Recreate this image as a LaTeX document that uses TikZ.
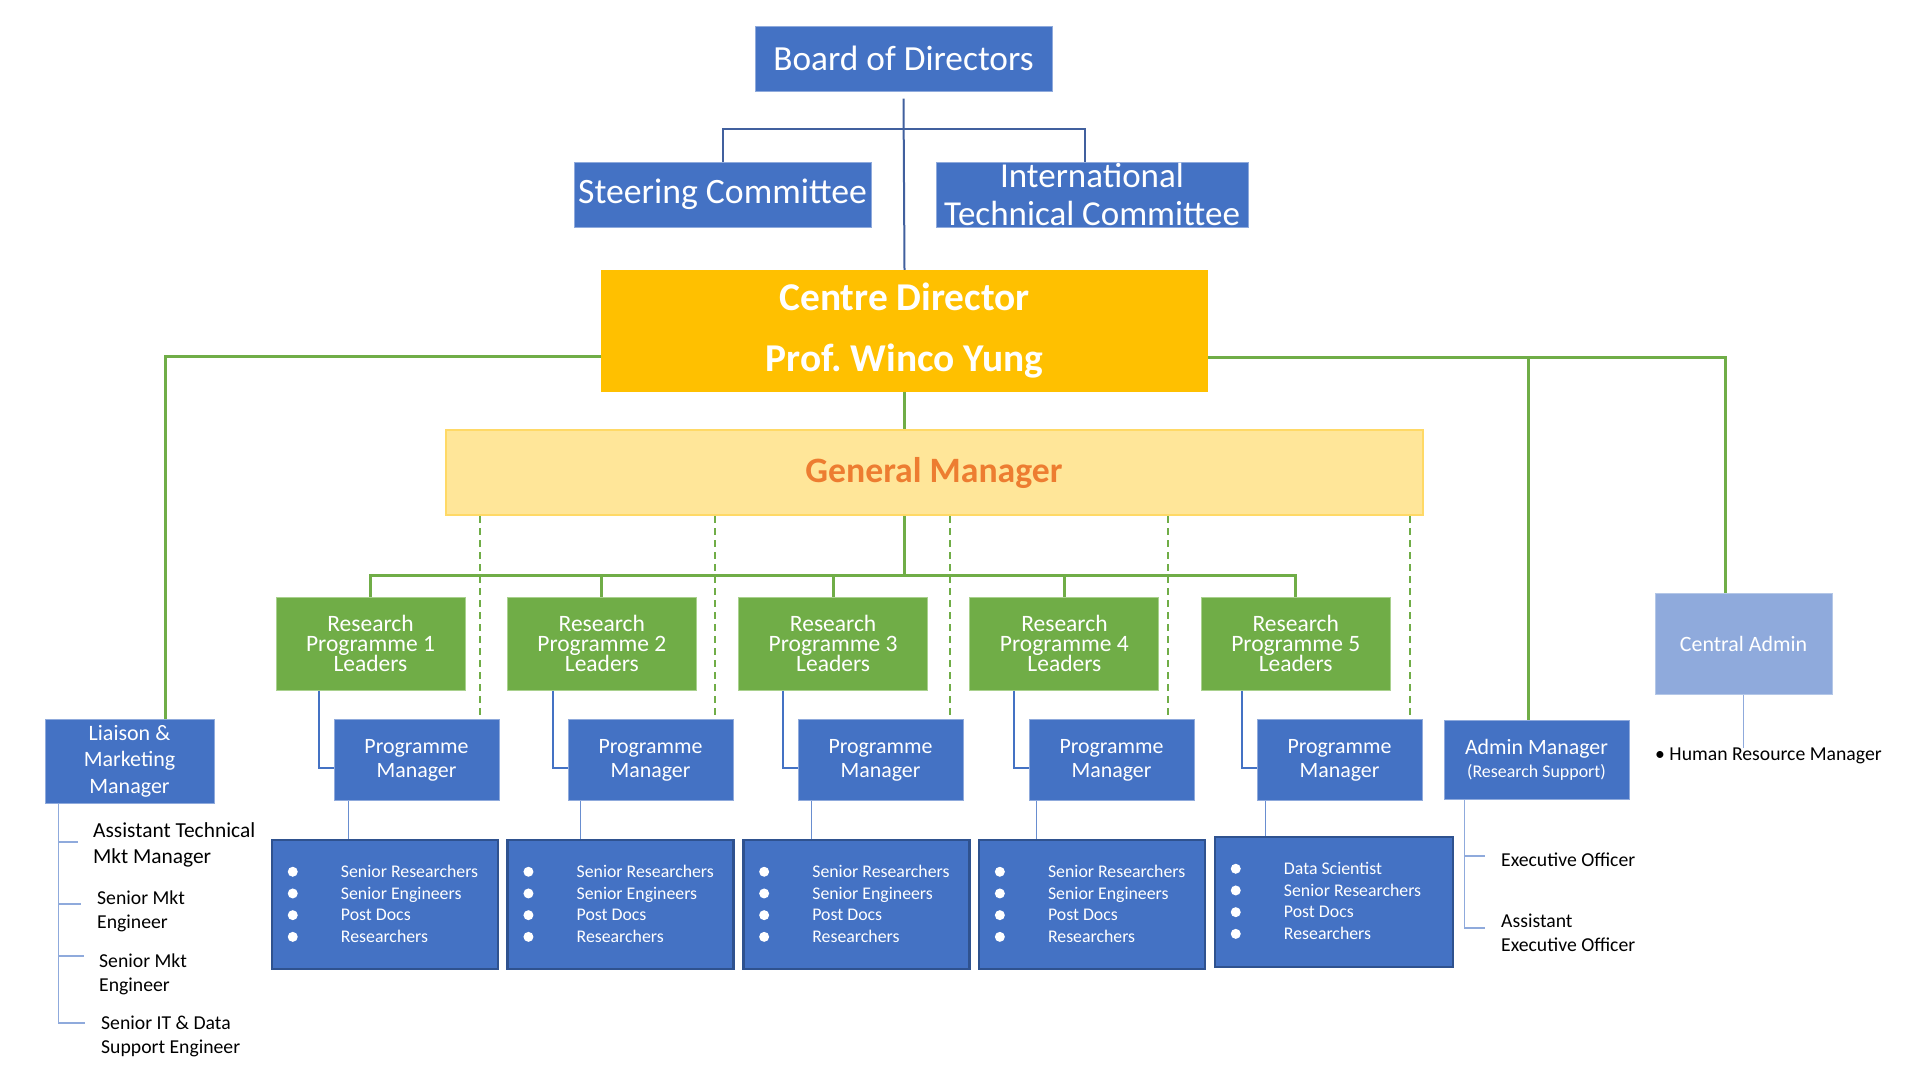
\documentclass[tikz,border=0pt]{standalone}
\usepackage{fontspec}
\setmainfont{Carlito}
\usetikzlibrary{positioning}

\definecolor{orgblue}{HTML}{4472C4}
\definecolor{edgeblue}{HTML}{8FAADC}
\definecolor{darkedge}{HTML}{2F528F}
\definecolor{lineblue}{HTML}{41609E}
\definecolor{orggreen}{HTML}{70AD47}
\definecolor{edgegreen}{HTML}{A9D18E}
\definecolor{gold}{HTML}{FFC000}
\definecolor{paleGold}{HTML}{FFE699}
\definecolor{paleEdge}{HTML}{FFD966}
\definecolor{orangeText}{HTML}{ED7D31}
\definecolor{adminBlue}{HTML}{8FAADC}
\definecolor{adminEdge}{HTML}{B4C7E7}

\newcommand{\setfs}[2]{\fontsize{#1}{#2}\selectfont\lineskiplimit=-50pt\relax}
\frenchspacing

\begin{document}
\begin{tikzpicture}[
    x=1pt, y=-1pt,
    box/.style={rectangle, inner sep=0pt, text=white, align=center},
    bluebox/.style={box, fill=orgblue, draw=edgeblue, line width=1pt},
    rpbox/.style={box, fill=orggreen, draw=edgegreen, line width=1pt,
        minimum width=189, minimum height=93, font=\setfs{23.5}{20}},
    pmbox/.style={bluebox, minimum width=165, minimum height=81, font=\setfs{21.9}{24}},
    listbox/.style={box, fill=orgblue, draw=darkedge, line width=2.5pt},
    listtext/.style={inner sep=0pt, text=white, font=\setfs{17.8}{21.7}},
    sidetext/.style={inner sep=0pt, align=left, anchor=west, font=\setfs{19.7}{24}},
    bline/.style={draw=lineblue, line width=2pt},
    eline/.style={draw=orgblue, line width=2pt},
    tline/.style={draw=edgeblue, line width=1.5pt},
    gline/.style={draw=orggreen, line width=3pt},
    gdash/.style={draw=orggreen, line width=2pt, dash pattern=on 7pt off 5pt}
]
    \useasboundingbox (0,0) rectangle (1920,1080);

    % board and committees
    \node[bluebox, minimum width=297, minimum height=65, font=\setfs{35.3}{40}] (board) at (903.5,58.5) {Board of Directors};
    \node[bluebox, minimum width=297, minimum height=65, font=\setfs{35.7}{40}] (steer) at (722.5,194.5) {Steering Committee};
    \node[bluebox, minimum width=312, minimum height=65, font=\setfs{35}{38}] (intl) at (1092,194.5) {International\\Technical Committee};

    % directors
    \node[box, fill=gold, minimum width=607, minimum height=122, font=\bfseries\setfs{39.4}{63}] (cd) at (904.5,331) {\raisebox{-2pt}{Centre Director}\\Prof. Winco Yung};
    \node[box, fill=paleGold, draw=paleEdge, line width=2pt, minimum width=977, minimum height=85,
        text=orangeText, font=\bfseries\setfs{35.7}{40}] (gm) at (934,472.5) {\raisebox{-2pt}{General Manager}};

    % side boxes
    \node[bluebox, minimum width=169, minimum height=84, font=\setfs{22}{26.5}] (liaison) at (129.5,761) {Liaison \&\\Marketing\\Manager};
    \node[bluebox, minimum width=185, minimum height=79, font=\setfs{21.9}{23}] (amgr) at (1536.5,759.5) {Admin Manager\\{\setfs{17.9}{23}(Research Support)}};
    \node[box, fill=adminBlue, draw=adminEdge, line width=1pt, minimum width=177, minimum height=101, font=\setfs{21.9}{24}] (cadmin) at (1743.5,643.5) {Central Admin};

    % programmes
    \foreach \i/\pl in {1/334,2/568,3/798,4/1029,5/1257}{
        \node[rpbox] (rp\i) at ({370.5+231.3*(\i-1)},643.5) {Research\\Programme \i\\Leaders};
        \node[pmbox] (pm\i) at ({\pl+82.5},760) {Programme\\Manager};
    }
    \foreach \i in {1,...,4}
        \node[listbox, minimum width=226, minimum height=129] (list\i) at ({385+235.7*(\i-1)},904.5) {};
    \node[listbox, minimum width=238, minimum height=130] (list5) at (1334,902) {};

    % list entries
    \foreach \i in {1,...,5}{
        \ifnum\i=5
            \def\items{Data Scientist,Senior Researchers,Post Docs,Researchers}
        \else
            \def\items{Senior Researchers,Senior Engineers,Post Docs,Researchers}
        \fi
        \foreach \t [count=\k from 0] in \items {
            \fill[white] ([shift={(22,{33+21.7*\k})}]list\i.north west) circle (5pt);
            \node[listtext, anchor=base west] (item\i\k) at ([shift={(70,{38.7+21.7*\k})}]list\i.north west) {\t};
        }
    }

    % top connectors
    \draw[bline] ([yshift=-7pt]board.south) -- (cd.north);
    \draw[bline] (steer.north) -- ++(0,-33) -| ([xshift=-7pt]intl.north);

    % green reporting lines
    \draw[gline] ([yshift=-25pt]cd.west) -| ([xshift=35.5pt]liaison.north);
    \draw[gline] ([yshift=-26pt]cd.east) -| ([xshift=-18.5pt]cadmin.north);
    \draw[gline] ([xshift=-8pt]amgr.north) |- ([yshift=-26pt]cd.east);
    \draw[gline] (cd.south) -- (cd.south |- gm.north);
    \draw[gline] (cd.south |- gm.south) -- ([yshift=21pt]cd.south |- rp1.north);
    \draw[gline] (rp1.north) -- ++(0,-21) -| (rp5.north);
    \foreach \i in {2,3,4}
        \draw[gline] (rp\i.north) -- ++(0,-21);

    % programme connectors
    \foreach \i/\dx/\lx in {1/-20/15,2/-19/13,3/-14/14,4/-27/8,5/-13/9}{
        \draw[gdash] ([xshift=\dx pt]pm\i.north east |- gm.south) -- ([xshift=\dx pt]pm\i.north east);
        \draw[eline] ([xshift=-15pt]pm\i.west |- rp\i.south) |- ([yshift=-8pt]pm\i.west);
        \draw[tline, draw=orgblue!80] ([xshift=\lx pt]pm\i.south west) -- ([xshift=\lx pt]pm\i.south west |- list\i.north);
    }

    % liaison team
    \coordinate (lspine) at ([xshift=14pt]liaison.south west);
    \coordinate (t1) at (78,842);
    \coordinate (t2) at (81,904);
    \coordinate (t3) at (84,956);
    \coordinate (t4) at (85,1023);
    \draw[tline] (lspine) |- (t4);
    \foreach \n in {1,2,3}
        \draw[tline] (t\n -| lspine) -- (t\n);
    \node[sidetext, font=\setfs{21.4}{26}] (atm) at (93,845) {Assistant Technical\\Mkt Manager};
    \node[sidetext] (sme1) at (97,911) {Senior Mkt\\Engineer};
    \node[sidetext] (sme2) at (99,974) {Senior Mkt\\Engineer};
    \node[sidetext] (itde) at (101,1036) {Senior IT \& Data\\Support Engineer};

    % admin team
    \coordinate (aspine) at ([xshift=21pt]amgr.south west);
    \coordinate (e1) at (1485,856);
    \coordinate (e2) at (1485,928);
    \draw[tline] (aspine) |- (e2);
    \draw[tline] (e1 -| aspine) -- (e1);
    \node[sidetext] (eo) at (1501,860) {Executive Officer};
    \node[sidetext] (aeo) at (1501,932.5) {Assistant\\Executive Officer};

    % central admin
    \node[sidetext] (hr) at (1655,756) {\textbullet\ Human Resource Manager};
    \draw[tline] (cadmin.south) -- (cadmin.south |- hr.north);

\end{tikzpicture}
\end{document}
